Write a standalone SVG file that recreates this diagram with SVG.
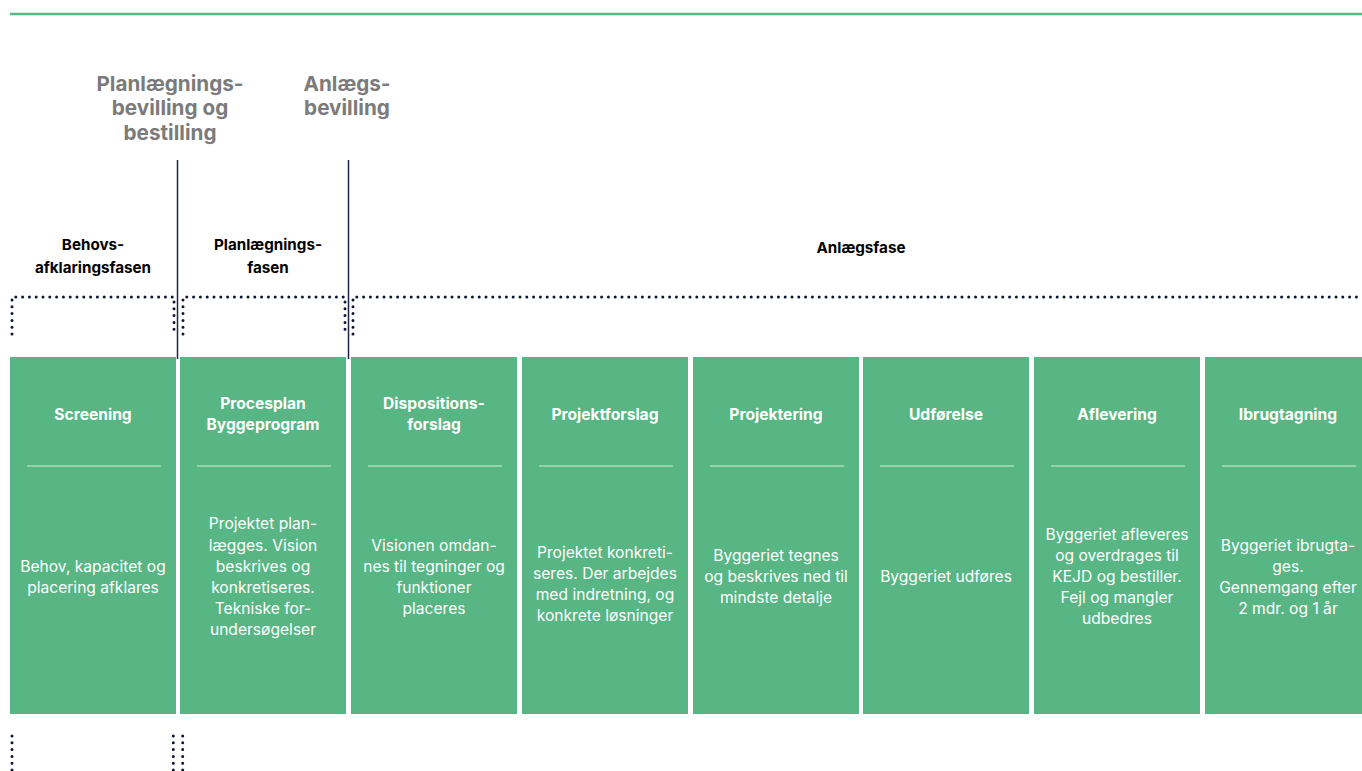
<svg xmlns="http://www.w3.org/2000/svg" width="1362" height="771" viewBox="0 0 1362 771">
<style>
.col{fill:#57b683}
.div{stroke:#a9dcbc;stroke-width:1.3}
.ttl{font-family:Inter,"Liberation Sans",sans-serif;font-weight:700;font-size:15.6px;fill:#fff;text-anchor:middle}
.body{font-family:Inter,"Liberation Sans",sans-serif;font-size:15.6px;fill:#fff;text-anchor:middle}
.phase{font-family:Inter,"Liberation Sans",sans-serif;font-weight:700;font-size:15.2px;fill:#000;text-anchor:middle}
.grant{font-family:Inter,"Liberation Sans",sans-serif;font-weight:700;font-size:20.7px;fill:#7b7b7b;text-anchor:middle}
.dot{stroke:#0d1733;stroke-width:3;stroke-linecap:round;stroke-dasharray:0 6.8;fill:none}
.vline{stroke:#1d2645;stroke-width:1.5}
</style>
<rect width="1362" height="771" fill="#fff"/>
<line x1="10" y1="14" x2="1362" y2="14" stroke="#5ab882" stroke-width="2.5"/>

<g id="grant-planning">
<text class="grant" x="170" y="91">Planlægnings-</text>
<text class="grant" x="170" y="115">bevilling og</text>
<text class="grant" x="170" y="140">bestilling</text>
</g>
<g id="grant-construction">
<text class="grant" x="347" y="91">Anlægs-</text>
<text class="grant" x="347" y="115">bevilling</text>
</g>

<g id="phase-behov">
<text class="phase" x="93" y="250">Behovs-</text>
<text class="phase" x="93" y="273">afklaringsfasen</text>
</g>
<g id="phase-planlaegning">
<text class="phase" x="268" y="250">Planlægnings-</text>
<text class="phase" x="268" y="273">fasen</text>
</g>
<g id="phase-anlaeg">
<text class="phase" x="861" y="253">Anlægsfase</text>
</g>

<g id="connectors">
<line class="vline" x1="177.5" y1="160" x2="177.5" y2="359"/>
<line class="vline" x1="348.5" y1="160" x2="348.5" y2="359"/>
<path class="dot" d="M12 334V297H174V334"/>
<path class="dot" d="M183 334V297H345V334"/>
<path class="dot" d="M353 334V297H1362"/>
<path class="dot" d="M12 736V770"/>
<path class="dot" d="M173.3 736V770"/>
<path class="dot" d="M182.7 736V770"/>
</g>

<g id="screening">
<rect class="col" x="10" y="357" width="166" height="357"/>
<line class="div" x1="27" y1="466" x2="161" y2="466"/>
<text class="ttl" x="93" y="420">Screening</text>
<text class="body" x="93" y="572">Behov, kapacitet og</text>
<text class="body" x="93" y="593">placering afklares</text>
</g>
<g id="procesplan">
<rect class="col" x="180" y="357" width="166" height="357"/>
<line class="div" x1="197" y1="466" x2="331" y2="466"/>
<text class="ttl" x="263" y="409">Procesplan</text>
<text class="ttl" x="263" y="430">Byggeprogram</text>
<text class="body" x="263" y="529">Projektet plan-</text>
<text class="body" x="263" y="551">lægges. Vision</text>
<text class="body" x="263" y="572">beskrives og</text>
<text class="body" x="263" y="593">konkretiseres.</text>
<text class="body" x="263" y="614">Tekniske for-</text>
<text class="body" x="263" y="635">undersøgelser</text>
</g>
<g id="dispositionsforslag">
<rect class="col" x="351" y="357" width="166" height="357"/>
<line class="div" x1="368" y1="466" x2="502" y2="466"/>
<text class="ttl" x="434" y="409">Dispositions-</text>
<text class="ttl" x="434" y="430">forslag</text>
<text class="body" x="434" y="551">Visionen omdan-</text>
<text class="body" x="434" y="572">nes til tegninger og</text>
<text class="body" x="434" y="593">funktioner</text>
<text class="body" x="434" y="614">placeres</text>
</g>
<g id="projektforslag">
<rect class="col" x="522" y="357" width="166" height="357"/>
<line class="div" x1="539" y1="466" x2="673" y2="466"/>
<text class="ttl" x="605" y="420">Projektforslag</text>
<text class="body" x="605" y="558">Projektet konkreti-</text>
<text class="body" x="605" y="579">seres. Der arbejdes</text>
<text class="body" x="605" y="600">med indretning, og</text>
<text class="body" x="605" y="621">konkrete løsninger</text>
</g>
<g id="projektering">
<rect class="col" x="693" y="357" width="166" height="357"/>
<line class="div" x1="710" y1="466" x2="844" y2="466"/>
<text class="ttl" x="776" y="420">Projektering</text>
<text class="body" x="776" y="561">Byggeriet tegnes</text>
<text class="body" x="776" y="582">og beskrives ned til</text>
<text class="body" x="776" y="603">mindste detalje</text>
</g>
<g id="udfoerelse">
<rect class="col" x="863" y="357" width="166" height="357"/>
<line class="div" x1="880" y1="466" x2="1014" y2="466"/>
<text class="ttl" x="946" y="420">Udførelse</text>
<text class="body" x="946" y="582">Byggeriet udføres</text>
</g>
<g id="aflevering">
<rect class="col" x="1034" y="357" width="166" height="357"/>
<line class="div" x1="1051" y1="466" x2="1185" y2="466"/>
<text class="ttl" x="1117" y="420">Aflevering</text>
<text class="body" x="1117" y="540">Byggeriet afleveres</text>
<text class="body" x="1117" y="561">og overdrages til</text>
<text class="body" x="1117" y="582">KEJD og bestiller.</text>
<text class="body" x="1117" y="603">Fejl og mangler</text>
<text class="body" x="1117" y="624">udbedres</text>
</g>
<g id="ibrugtagning">
<rect class="col" x="1205" y="357" width="157" height="357"/>
<line class="div" x1="1222" y1="466" x2="1356" y2="466"/>
<text class="ttl" x="1288" y="420">Ibrugtagning</text>
<text class="body" x="1288" y="551">Byggeriet ibrugta-</text>
<text class="body" x="1288" y="572">ges.</text>
<text class="body" x="1288" y="593">Gennemgang efter</text>
<text class="body" x="1288" y="614">2 mdr. og 1 år</text>
</g>
</svg>
